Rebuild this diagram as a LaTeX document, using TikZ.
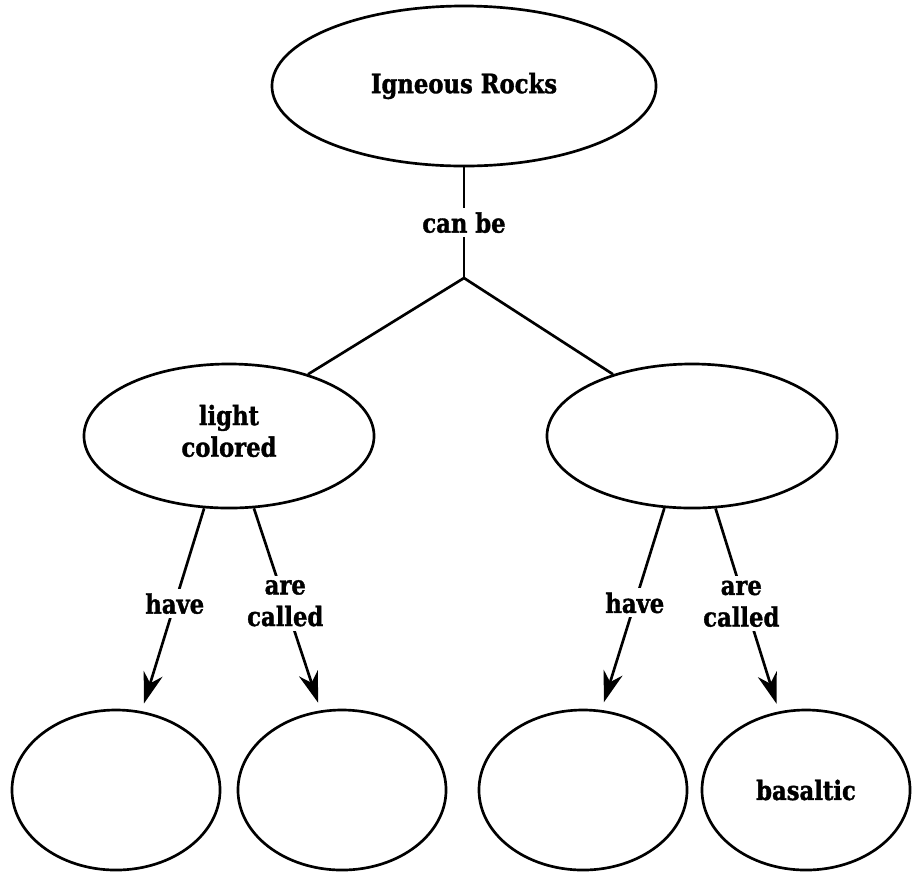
\documentclass[tikz,border=0pt]{standalone}
\usepackage{fontspec}
\setmainfont{DejaVu Serif}[FakeStretch=0.85,BoldFeatures={FakeBold=1.3}]
\usetikzlibrary{arrows.meta,shapes.geometric}

\begin{document}
\begin{tikzpicture}[x=0.025cm,y=-0.025cm,
  font=\fontsize{19}{22.5}\selectfont\bfseries,
  bubble/.style={draw,ellipse,line width=1.9pt,inner sep=0pt,align=center},
  top/.style={bubble,minimum width=9.6cm,minimum height=4cm},
  mid/.style={bubble,minimum width=7.25cm,minimum height=3.6cm},
  leaf/.style={bubble,minimum width=5.2cm,minimum height=4cm},
  link/.style={line width=1.9pt},
  arr/.style={link,-{Stealth[length=22pt,width=14pt,inset=7pt]},shorten >=0.2cm},
  lbl/.style={fill=white,inner sep=3pt,align=center}]
\useasboundingbox (0,0) rectangle (912,871);

% ---- main concept
\node[top] (rocks) at (464,86) {Igneous Rocks};
\coordinate (fork) at (464,278);
\draw[link] (rocks.south) -- node[lbl] {can be} (fork);

% ---- the two kinds
\node[mid] (light) at (229,436) {light\\colored\\[-15pt]};
\node[mid] (dark)  at (692,436) {};
\draw[link] (fork) -- (light.38);
\draw[link] (fork) -- (dark.142);

% ---- bottom row
\node[leaf] (l1) at (116,790) {};
\node[leaf] (l2) at (342,790) {};
\node[leaf] (d1) at (583,790) {};
\node[leaf] (d2) at (806,790) {basaltic};

\draw[arr] (light.251) -- node[lbl,pos=0.47] {have} (l1.72);
\draw[arr] (light.289) -- node[lbl,pos=0.47] {are\\called} (l2.105);
\draw[arr] (dark.249) -- node[lbl,pos=0.47] {have} (d1.77);
\draw[arr] (dark.288) -- node[lbl,pos=0.47,xshift=-0.1cm] {are\\called} (d2.109);
\end{tikzpicture}
\end{document}
